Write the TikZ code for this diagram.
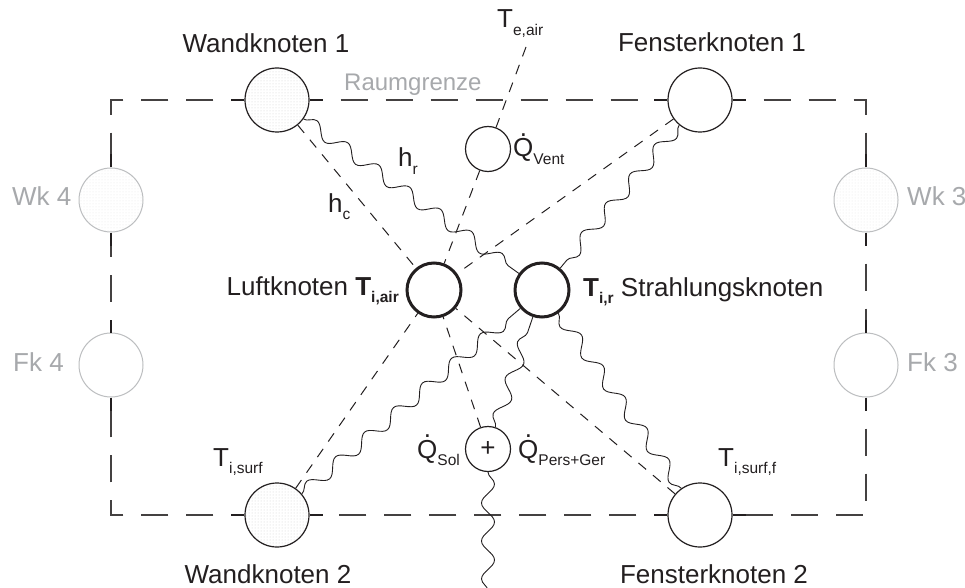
\documentclass[tikz,border=0pt]{standalone}
\usepackage{fontspec}
\setmainfont{Liberation Sans}
\usetikzlibrary{decorations.pathmorphing,patterns,calc}
\definecolor{ink}{HTML}{231F20}
\definecolor{lgrey}{HTML}{A7A9AC}
\definecolor{cgrey}{HTML}{BCBEC0}
\newcommand\SUB[1]{\raisebox{-0.28em}{\fontsize{15.5}{16}\selectfont #1}}
\newcommand\QD{\makebox[0pt][l]{\hspace{0.26em}\raisebox{0.8em}{.}}Q}
\begin{document}
\begin{tikzpicture}[x=1pt,y=-1pt, font=\fontsize{26}{30}\selectfont, text=ink,
  wnode/.style={circle, draw=ink, line width=1.2pt, minimum size=64pt, inner sep=0pt, pattern=dots, pattern color=black!18},
  fnode/.style={circle, draw=ink, line width=1.2pt, minimum size=64pt, inner sep=0pt, fill=white},
  gwnode/.style={circle, draw=cgrey, line width=1pt, minimum size=64pt, inner sep=0pt, pattern=dots, pattern color=black!9},
  gfnode/.style={circle, draw=cgrey, line width=1pt, minimum size=64pt, inner sep=0pt, fill=white},
  bignode/.style={circle, draw=ink, line width=3pt, minimum size=54pt, inner sep=0pt, fill=white},
  smallnode/.style={circle, draw=ink, line width=1.2pt, minimum size=45pt, inner sep=0pt, fill=white},
  stub/.style={line width=1.6pt, draw=ink},
  bound/.style={line width=1.3pt, draw=ink!85, dash pattern=on 27pt off 18pt, dash phase=27pt},
  conv/.style={line width=1pt, draw=ink, dash pattern=on 10pt off 9pt},
  rad/.style={line width=0.9pt, draw=ink, decorate, decoration={snake, segment length=38pt, amplitude=6.5pt}},
  lab/.style={inner sep=0pt},
  glab/.style={inner sep=0pt, text=lgrey, anchor=base west}]
\fill[white] (0,0) rectangle (965,588);
\useasboundingbox (0,0) rectangle (965,588);

% corners of the room boundary
\coordinate (TL) at (111,100);
\coordinate (TR) at (866,100);
\coordinate (BR) at (866,515);
\coordinate (BL) at (111,515);
\coordinate (Te) at (526,47);
\coordinate (Out) at (488,592);

% nodes
\node[wnode] (W1) at (277,100) {};
\node[fnode] (F1) at (700,100) {};
\node[wnode] (W2) at (277,515) {};
\node[fnode] (F2) at (700,515) {};
\node[gwnode] (Wk4) at (111,200) {};
\node[gfnode] (Fk4) at (111,365) {};
\node[gwnode] (Wk3) at (866,200) {};
\node[gfnode] (Fk3) at (866,365) {};
\node[smallnode] (V) at (488,149) {};
\node[smallnode] (P) at (488,449) {+};

% boundary stubs
\draw[stub] (W1.west) -- ++(-13,0);
\draw[stub] (W1.east) -- ++(13,0);
\draw[stub] (F1.west) -- ++(-13,0);
\draw[stub] (F1.east) -- ++(13,0);
\draw[stub] (W2.west) -- ++(-13,0);
\draw[stub] (W2.east) -- ++(13,0);
\draw[stub] (F2.west) -- ++(-13,0);
\draw[stub] (F2.east) -- ++(13,0);
\draw[stub] (Wk4.north) -- ++(0,-13);
\draw[stub] (Wk4.south) -- ++(0,13);
\draw[stub] (Fk4.north) -- ++(0,-13);
\draw[stub] (Fk4.south) -- ++(0,13);
\draw[stub] (Wk3.north) -- ++(0,-13);
\draw[stub] (Wk3.south) -- ++(0,13);
\draw[stub] (Fk3.north) -- ++(0,-13);
\draw[stub] (Fk3.south) -- ++(0,13);

% boundary dashes
\draw[bound] ([xshift=-13pt]W1.west) -- (TL) -- ([yshift=13pt]Wk4.north);
\draw[bound] ([xshift=13pt]W1.east) -- ([xshift=-13pt]F1.west);
\draw[bound] ([xshift=13pt]F1.east) -- (TR) -- ([yshift=13pt]Wk3.north);
\draw[bound] ([yshift=-13pt]Wk3.south) -- ([yshift=13pt]Fk3.north);
\draw[bound] ([yshift=-13pt]Fk3.south) -- (BR) -- ([xshift=13pt]F2.east);
\draw[bound] ([xshift=-13pt]F2.west) -- ([xshift=13pt]W2.east);
\draw[bound] ([xshift=-13pt]W2.west) -- (BL) -- ([yshift=-13pt]Fk4.south);
\draw[bound] ([yshift=13pt]Fk4.north) -- ([yshift=-13pt]Wk4.south);

% inner nodes
\node[bignode] (L) at (434,290) {};
\node[bignode] (S) at (542,290) {};

% convection (dashed)
\draw[conv] (Te) -- (V);
\draw[conv] (V) -- (L);
\draw[conv] (W1) -- (L);
\draw[conv] (F1) -- (L);
\draw[conv] (W2) -- (L);
\draw[conv] (F2) -- (L);
\draw[conv] (P) -- (L);

% radiation (wavy)
\draw[rad] (W1) -- (S);
\draw[rad] (F1) -- (S);
\draw[rad] (W2) -- (S);
\draw[rad] (F2) -- (S);
\draw[rad] (P) -- (S);
\draw[rad] (P) -- (Out);

% labels
\node[anchor=base] (tW1) at (266,53) {Wandknoten 1};
\node[anchor=base] (tF1) at (712,52) {Fensterknoten 1};
\node[anchor=base] (tW2) at (268,583) {Wandknoten 2};
\node[anchor=base] (tF2) at (714,583) {Fensterknoten 2};
\node[lab, anchor=base west] (tTe) at (497,28) {T\SUB{e,air}};
\node[lab, anchor=base west, text=lgrey, font=\fontsize{24}{28}\selectfont] (tR) at (344,91) {Raumgrenze};
\node[lab, anchor=base west] (tV) at (513,157) {\QD\SUB{Vent}};
\node[lab, anchor=base west] (thr) at (398,167) {h\SUB{r}};
\node[lab, anchor=base west] (thc) at (328,212) {h\SUB{c}};
\node[lab, anchor=base east] (tL) at (399,295) {Luftknoten \textbf{T\SUB{i,air}}};
\node[lab, anchor=base west] (tS) at (583,296) {\textbf{T\SUB{i,r}} Strahlungsknoten};
\node[lab, anchor=base west] (tTs) at (213,466) {T\SUB{i,surf}};
\node[lab, anchor=base west] (tTsf) at (718,466) {T\SUB{i,surf,f}};
\node[lab, anchor=base west] (tQs) at (417,458) {\QD\SUB{Sol}};
\node[lab, anchor=base west] (tQp) at (518,458) {\QD\SUB{Pers+Ger}};
\node[glab] (tWk4) at (12,205) {Wk 4};
\node[glab] (tFk4) at (13,371) {Fk 4};
\node[glab] (tWk3) at (907,205) {Wk 3};
\node[glab] (tFk3) at (907,371) {Fk 3};
\end{tikzpicture}
\end{document}
